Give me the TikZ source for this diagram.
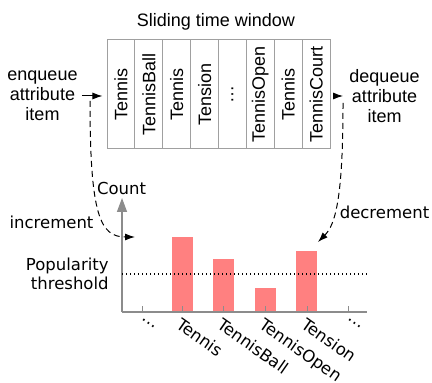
\documentclass[tikz,border=0pt]{standalone}
\usepackage{fontspec}
\setmainfont{Liberation Sans}
\newfontfamily\chartfont{DejaVu Sans}
\usetikzlibrary{arrows.meta,positioning}
\definecolor{barred}{RGB}{255,128,128}
\definecolor{axisgray}{RGB}{140,140,140}
\definecolor{cellgray}{RGB}{160,160,160}

\begin{document}
\begin{tikzpicture}[x=0.5pt,y=-0.5pt,
    cell/.style={draw=cellgray,line width=0.5pt,rotate=90,minimum width=54.5pt,
      minimum height=13.94pt,inner sep=0pt,font=\fontsize{9}{10}\selectfont},
    qlabel/.style={align=center,inner sep=2pt,font=\fontsize{9}{10}\selectfont},
    qarrow/.style={line width=0.5pt,-{Latex[length=5pt,width=3.5pt]}},
    flow/.style={line width=0.5pt,dash pattern=on 3pt off 2pt,-{Latex[length=5pt,width=3.5pt]}},
    clabel/.style={inner sep=1pt,font=\chartfont\fontsize{8.25}{9.5}\selectfont},
    tlabel/.style={clabel,anchor=north west,rotate=-35}]
  \useasboundingbox (0,0) rectangle (432,383);

  % sliding window
  \node[font=\fontsize{9}{10}\selectfont] (title) at (216,22) {Sliding time window};
  \foreach \w [count=\i] in {Tennis,TennisBall,Tennis,Tension,…,TennisOpen,Tennis,TennisCourt}
    \node[cell] (cell\i) at ({107+27.875*(\i-0.5)},94.5) {\w};

  \node[qlabel] (enq) at (42.5,96) {enqueue\\attribute\\item};
  \node[qlabel] (deq) at (384.5,96) {dequeue\\attribute\\item};
  \draw[qarrow,shorten >=2pt] (enq.east) -- (enq.east -| cell1.north);
  \draw[qarrow,shorten <=1.5pt,shorten >=1pt] (cell8.south |- deq.west) -- (deq.west);

  % counts
  \coordinate (origin) at (122,312);
  \foreach \x/\top in {172/237,213/259,255/288,296/251}
    \fill[barred] (\x,312) rectangle (\x+21,\top);
  \draw[axisgray,line width=0.75pt] (origin) -- (367,312);
  \draw[axisgray,line width=0.75pt,-{Triangle[length=7pt,width=5pt]}] (origin) -- (122,198);
  \foreach \x in {142,182,223,265,307,348}
    \draw[axisgray,line width=0.5pt] (\x,312) -- (\x,306);
  \draw[line width=0.7pt,dash pattern=on 0.7pt off 1.3pt] (122,274) -- (367,274);

  \node[clabel] (count) at (121.5,188) {Count};
  \node[clabel,anchor=east,align=right] (threshold) at (111,274) {Popularity\\threshold};
  \foreach \x/\w in {142/…,182/Tennis,223/TennisBall,265/TennisOpen,307/Tension,348/…}
    \node[tlabel] (lab\x) at (\x,314) {\w};

  % update arrows
  \coordinate (incfrom) at (90,101);
  \coordinate (incto) at (135,237);
  \coordinate (decfrom) at (343,103);
  \coordinate (decto) at (318,242);
  \draw[flow] (incfrom) .. controls (90,215) and (100,237) .. (incto);
  \draw[flow] (decfrom) .. controls (343,200) and (335,225) .. (decto);
  \node[clabel] (inc) at (51.5,222) {increment};
  \node[clabel] (dec) at (384.5,212) {decrement};
\end{tikzpicture}
\end{document}
